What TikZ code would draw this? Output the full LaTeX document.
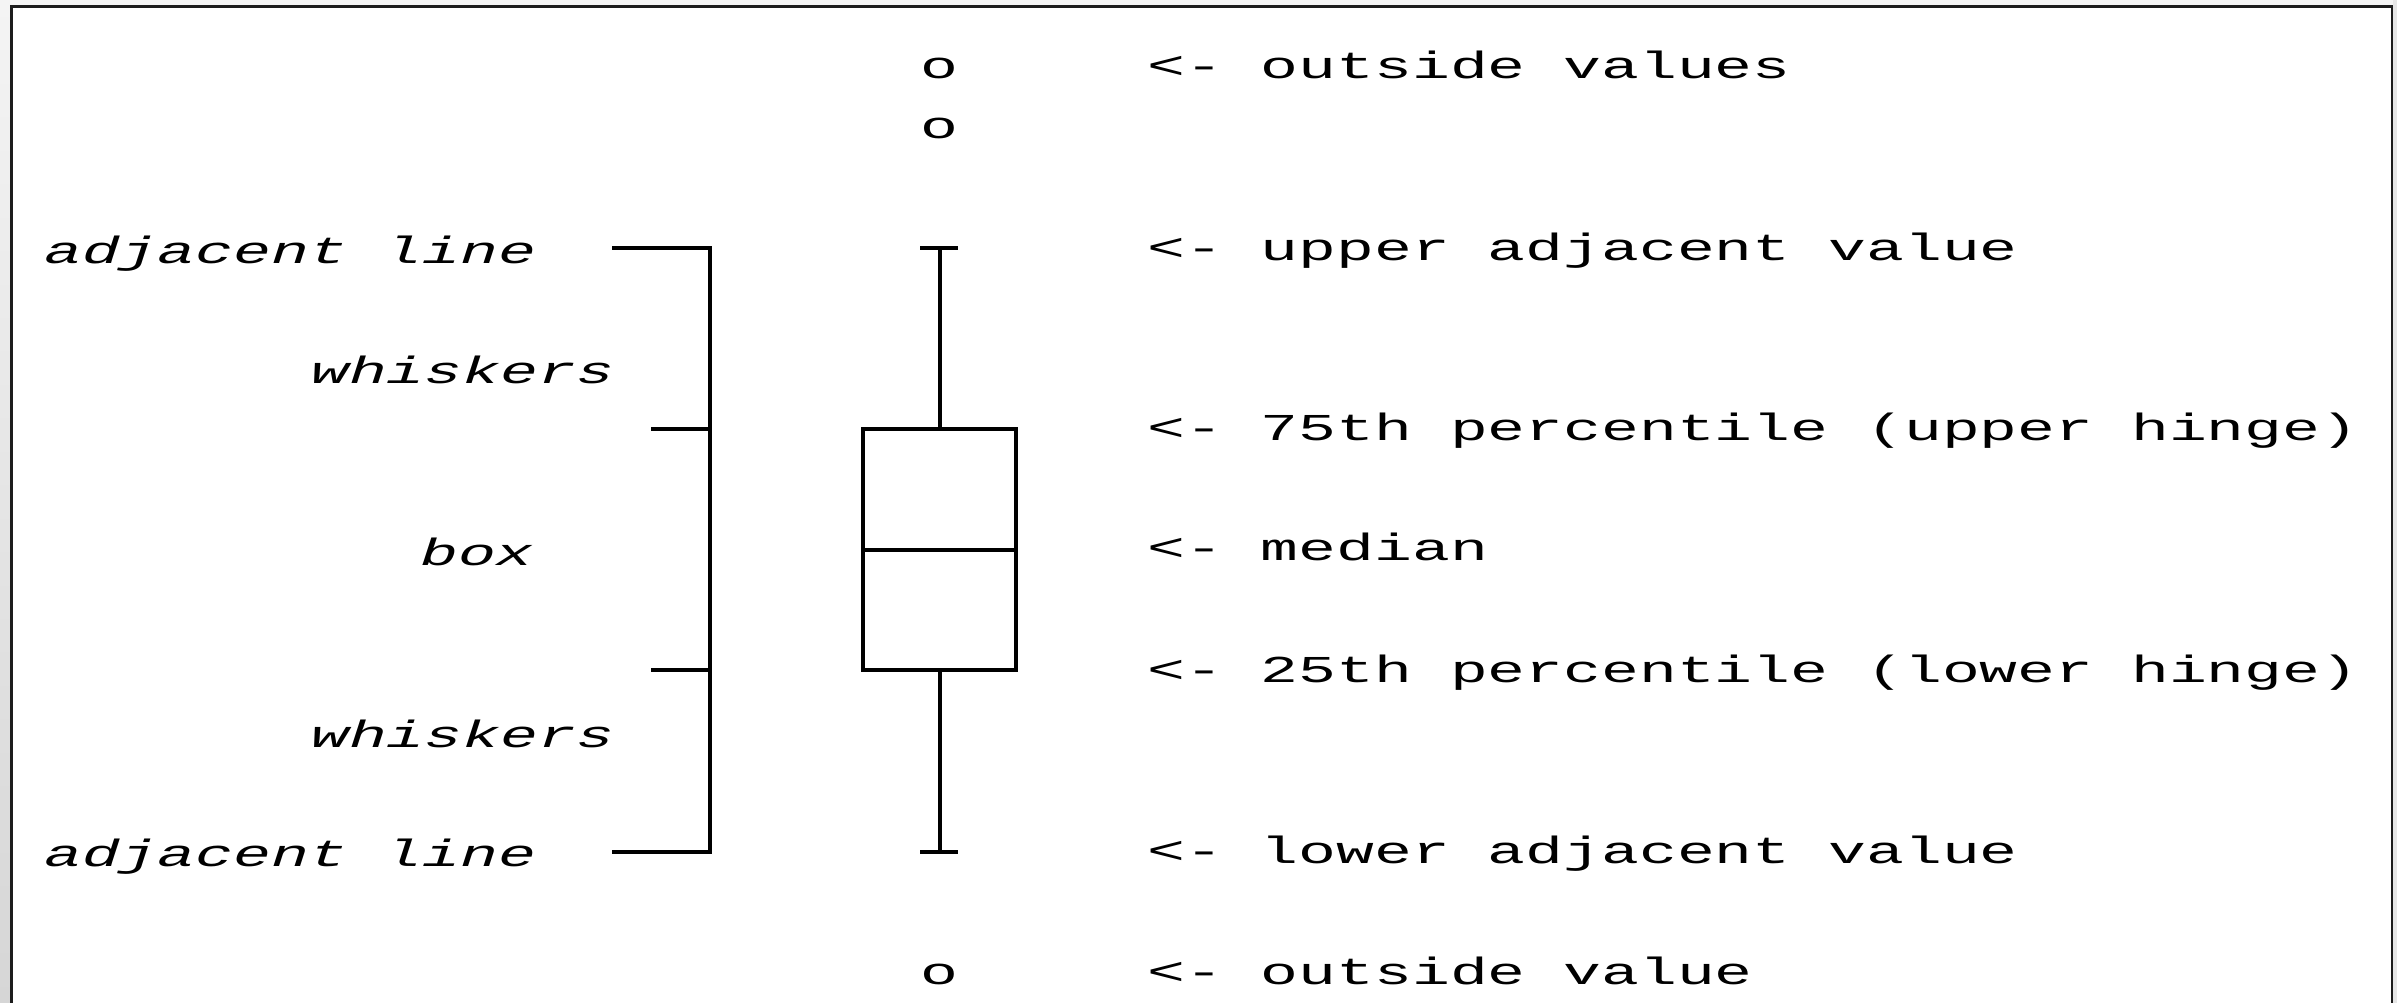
\documentclass[tikz,border=0pt]{standalone}
\usepackage{fontspec}
\newfontfamily\monofont[FakeStretch=1.66]{Liberation Mono}
\definecolor{framegray}{HTML}{1C1C1C}
\definecolor{bgtop}{HTML}{F4F4F4}
\definecolor{bgleftbottom}{HTML}{D6D6D6}
\definecolor{bgright}{HTML}{E6E6E6}
\begin{document}
\begin{tikzpicture}[x=1pt,y=-1pt,
  lbl/.style={font=\monofont\fontsize{38}{40}\selectfont, inner sep=0pt, anchor=mid west},
  ilbl/.style={font=\monofont\itshape\fontsize{38}{40}\selectfont, inner sep=0pt, anchor=mid west},
  pt/.style={font=\monofont\fontsize{38}{40}\selectfont, inner sep=0pt, anchor=mid},
  stroke/.style={line width=4pt, black},
  boxshape/.style={draw, line width=4pt, minimum width=153pt, minimum height=241pt, inner sep=0pt}]
\useasboundingbox (0,0) rectangle (2397,1003);
% window background and frame
\fill[bgtop] (0,0) rectangle (2397,7);
\shade[top color=bgtop, bottom color=bgleftbottom] (0,0) rectangle (11,1003);
\fill[bgright] (2393,0) rectangle (2397,1003);
\fill[white] (12,7) rectangle (2392,1003);
\draw[framegray, line width=2.5pt] (11.7,1004) -- (11.7,6.7) -- (2392,6.7) -- (2392,1004);

% box plot
\node[boxshape] (box) at (939.5,549.5) {};
\draw[stroke] (box.west) -- (box.east);
\coordinate (uc) at (939,248);
\coordinate (lc) at (939,852);
\draw[stroke] (box.north) -- (box.north |- uc);
\draw[stroke] (box.south) -- (box.south |- lc);
\draw[stroke] ([xshift=-19pt]uc) -- ([xshift=19pt]uc);
\draw[stroke] ([xshift=-19pt]lc) -- ([xshift=19pt]lc);

% outside values
\node[pt] (o1) at (939,76) {o};
\node[pt] (o2) at (939,136) {o};
\node[pt] (o3) at (939,982) {o};

% bracket
\coordinate (bt) at (612,248);
\coordinate (btr) at (710,248);
\coordinate (bbr) at (710,852);
\coordinate (bb) at (612,852);
\coordinate (t1a) at (651,429);
\coordinate (t1b) at (710,429);
\coordinate (t2a) at (651,670);
\coordinate (t2b) at (710,670);
\draw[stroke, line join=miter] (bt) -- (btr) -- (bbr) -- (bb);
\draw[stroke] (t1a) -- (t1b);
\draw[stroke] (t2a) -- (t2b);

% left labels
\node[ilbl] (al1) at (44,261) {adjacent line};
\node[ilbl] (wh1) at (311,381) {whiskers};
\node[ilbl] (bx) at (420,563) {box};
\node[ilbl] (wh2) at (311,745) {whiskers};
\node[ilbl] (al2) at (44,864) {adjacent line};

% right labels
\node[lbl] (r1) at (1147,76) {<- outside values};
\node[lbl] (r2) at (1147,258) {<- upper adjacent value};
\node[lbl] (r3) at (1147,438) {<- 75th percentile (upper hinge)};
\node[lbl] (r4) at (1147,558) {<- median};
\node[lbl] (r5) at (1147,680) {<- 25th percentile (lower hinge)};
\node[lbl] (r6) at (1147,861) {<- lower adjacent value};
\node[lbl] (r7) at (1147,982) {<- outside value};
\end{tikzpicture}
\end{document}
